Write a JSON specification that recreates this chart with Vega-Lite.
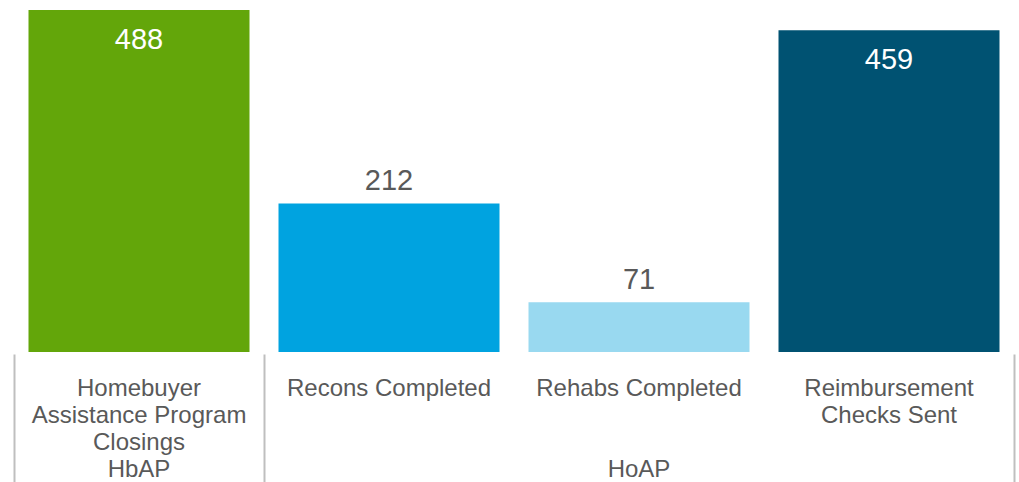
{
  "$schema": "https://vega.github.io/schema/vega-lite/v6.json",
  "autosize": "none",
  "width": 1000,
  "height": 342,
  "padding": {"left": 14, "top": 10, "right": 5, "bottom": 130},
  "background": "white",
  "config": {"view": {"stroke": null}, "font": "Liberation Sans"},
  "data": {
    "values": [
      {"category": "Homebuyer Assistance Program Closings", "group": "HbAP", "value": 488},
      {"category": "Recons Completed", "group": "HoAP", "value": 212},
      {"category": "Rehabs Completed", "group": "HoAP", "value": 71},
      {"category": "Reimbursement Checks Sent", "group": "HoAP", "value": 459}
    ]
  },
  "encoding": {
    "y": {"field": "value", "type": "quantitative", "scale": {"domain": [0, 488], "nice": false}, "axis": null},
    "color": {
      "field": "category", "type": "nominal", "legend": null,
      "scale": {
        "domain": ["Homebuyer Assistance Program Closings", "Recons Completed", "Rehabs Completed", "Reimbursement Checks Sent"],
        "range": ["#63A60A", "#00A3E0", "#99D9F0", "#005272"]
      }
    }
  },
  "layer": [
    {
      "transform": [{"filter": "datum.group == 'HbAP'"}],
      "mark": {"type": "bar"},
      "encoding": {
        "x": {
          "field": "category", "type": "nominal", "sort": null, "title": null,
          "scale": {"paddingInner": 0.116, "paddingOuter": 0.058},
          "axis": {
            "orient": "bottom", "domain": false, "ticks": false, "labelAngle": 0,
            "labelFontSize": 24, "labelColor": "#595959", "labelLineHeight": 27,
            "labelPadding": 36, "labelLimit": 300, "labelBaseline": "middle",
            "labelExpr": "datum.value == 'Homebuyer Assistance Program Closings' ? ['Homebuyer', 'Assistance Program', 'Closings'] : datum.value == 'Reimbursement Checks Sent' ? ['Reimbursement', 'Checks Sent'] : datum.value"
          }
        }
      }
    },
    {
      "transform": [{"filter": "datum.group == 'HoAP'"}],
      "mark": {"type": "bar"},
      "encoding": {
        "x": {
          "field": "category", "type": "nominal", "sort": null, "title": null,
          "axis": {
            "orient": "bottom", "domain": false, "labels": false,
            "values": ["Homebuyer Assistance Program Closings", "Recons Completed"],
            "bandPosition": 0, "tickSize": 128, "tickOffset": -14.5, "tickColor": "#BFBFBF", "tickWidth": 2, "offset": 2
          }
        }
      }
    },
    {
      "transform": [{"filter": "datum.value < 400"}],
      "mark": {"type": "text", "baseline": "alphabetic", "dy": -13, "fontSize": 29},
      "encoding": {
        "x": {
          "field": "category", "type": "nominal", "sort": null, "title": null,
          "axis": {
            "orient": "bottom", "domain": false, "labels": false,
            "values": ["Reimbursement Checks Sent"],
            "bandPosition": 1, "tickSize": 128, "tickOffset": 14.5, "tickColor": "#BFBFBF", "tickWidth": 2, "offset": 2
          }
        },
        "text": {"field": "value", "type": "quantitative"},
        "color": {"value": "#595959"}
      }
    },
    {
      "transform": [{"filter": "datum.value >= 400"}],
      "mark": {"type": "text", "baseline": "alphabetic", "dy": 39, "fontSize": 29},
      "encoding": {
        "x": {
          "field": "category", "type": "nominal", "sort": null, "title": null,
          "axis": {
            "orient": "bottom", "domain": false, "ticks": false,
            "values": ["Homebuyer Assistance Program Closings", "Rehabs Completed"],
            "labelExpr": "datum.value == 'Homebuyer Assistance Program Closings' ? 'HbAP' : 'HoAP'",
            "labelAngle": 0, "labelFontSize": 24, "labelColor": "#595959",
            "labelPadding": 117, "labelBaseline": "middle"
          }
        },
        "text": {"field": "value", "type": "quantitative"},
        "color": {"value": "white"}
      }
    }
  ],
  "resolve": {"axis": {"x": "independent"}}
}
